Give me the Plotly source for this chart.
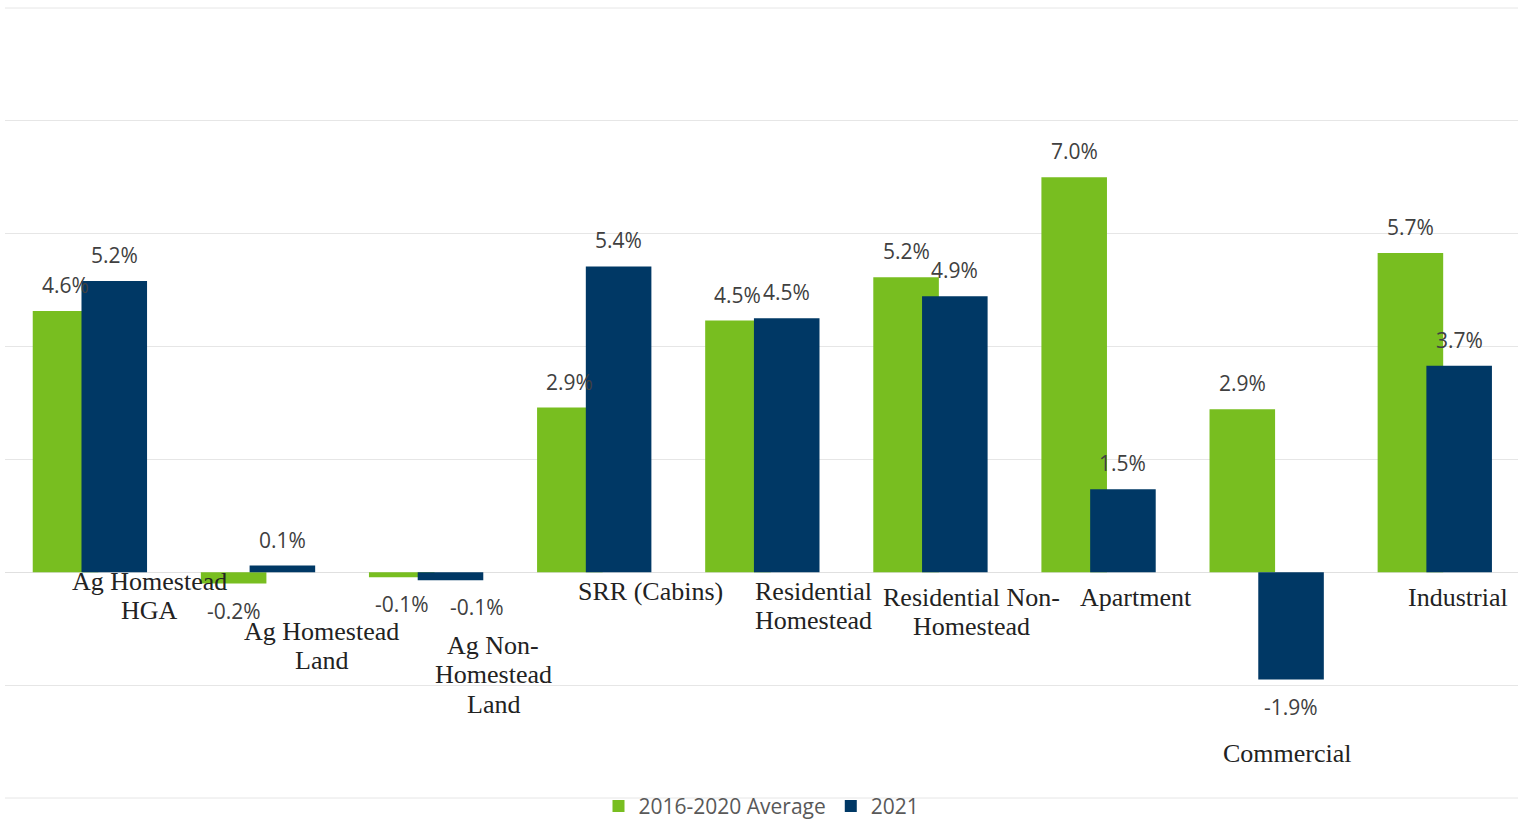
import plotly.graph_objects as go

categories = ["Ag Homestead HGA", "Ag Homestead Land", "Ag Non-Homestead Land",
              "SRR (Cabins)", "Residential Homestead", "Residential Non-Homestead",
              "Apartment", "Commercial", "Industrial"]
cat_label_lines = [["Ag Homestead", "HGA"], ["Ag Homestead", "Land"],
                   ["Ag Non-", "Homestead", "Land"], ["SRR (Cabins)"],
                   ["Residential", "Homestead"], ["Residential Non-", "Homestead"],
                   ["Apartment"], ["Commercial"], ["Industrial"]]
avg_2016_2020 = [4.63, -0.2, -0.09, 2.92, 4.46, 5.23, 7.0, 2.89, 5.66]
y_2021 = [5.16, 0.12, -0.14, 5.42, 4.5, 4.89, 1.47, -1.9, 3.66]

# layout / style settings
GREEN = "#78BE20"
NAVY = "#003865"
GRID = "#E6E6E6"
BAR_W = 0.39
OFF_G = -0.335
OFF_N = -0.045
# per-category label placement (pixel shifts relative to category centre / zero line)
label_xshift = [60, 64, 68, 57, 52, 42, 38, 22, 24]
label_first_line = [9, 59, 73, 19, 19, 25, 25, 181, 25]
LINE_H = 29.5
# extra horizontal nudges for value labels (to avoid overlaps, as in the source)
val_dx_g = [0, 0, 0, 0, 0, 0, 0, 0, 0]
val_dx_n = [0, 0, 27, 0, 0, 0, 0, 0, 0]

xs = list(range(len(categories)))

fig = go.Figure()
fig.add_trace(go.Bar(x=xs, y=avg_2016_2020, name="2016-2020 Average",
                     marker=dict(color=GREEN, line=dict(width=0)),
                     width=BAR_W, offset=OFF_G))
fig.add_trace(go.Bar(x=xs, y=y_2021, name="2021",
                     marker=dict(color=NAVY, line=dict(width=0)),
                     width=BAR_W, offset=OFF_N))

annotations = []
for series, off, dxs in ((avg_2016_2020, OFF_G, val_dx_g), (y_2021, OFF_N, val_dx_n)):
    for i, v in enumerate(series):
        annotations.append(dict(
            x=i + off + BAR_W / 2, y=v, xref="x", yref="y",
            text=f"{v:.1f}%", showarrow=False,
            xshift=dxs[i], yshift=26 if v >= 0 else -27,
            font=dict(family="Open Sans", size=21, color="#404040"),
            xanchor="center", yanchor="middle"))

for i, lines in enumerate(cat_label_lines):
    for k, line in enumerate(lines):
        annotations.append(dict(
            x=i, y=0, xref="x", yref="y", text=line, showarrow=False,
            xshift=label_xshift[i], yshift=-(label_first_line[i] + k * LINE_H),
            xanchor="center", yanchor="middle", align="center",
            font=dict(family="Liberation Serif", size=26, color="#222222")))

# border gridlines at the range ends (top and bottom of the plot area)
shapes = [dict(type="line", xref="paper", yref="paper", x0=0, x1=1, y0=yy, y1=yy,
               line=dict(color=GRID, width=1), layer="below") for yy in (0, 1)]

fig.update_layout(
    barmode="overlay",
    width=1527, height=824,
    margin=dict(l=5, r=9, t=8, b=26, autoexpand=False),
    paper_bgcolor="white", plot_bgcolor="white",
    showlegend=True,
    legend=dict(orientation="h", x=0.5, xanchor="center",
                yref="container", y=0.0213, yanchor="middle",
                bgcolor="rgba(0,0,0,0)",
                font=dict(family="Open Sans", size=21, color="#595959")),
    annotations=annotations,
    shapes=shapes,
    xaxis=dict(range=[-0.5, len(categories) - 0.5], showticklabels=False,
               showgrid=False, zeroline=False, showline=False, ticks=""),
    yaxis=dict(range=[-4, 10], tick0=0, dtick=2, showticklabels=False,
               showgrid=True, gridcolor=GRID, gridwidth=1,
               zeroline=True, zerolinecolor="#E0E0E0", zerolinewidth=1,
               showline=False, ticks=""),
)

fig.write_html("out.html", config={"displayModeBar": False},
               post_script="document.body.style.margin='0';document.body.style.overflow='hidden';")
